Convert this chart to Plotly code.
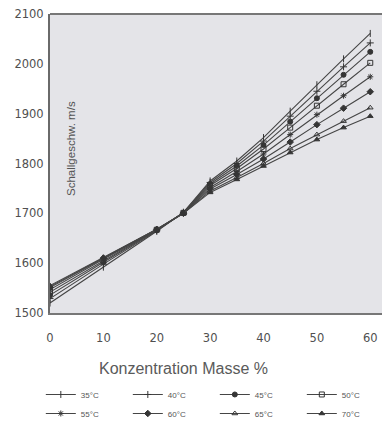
import plotly.graph_objects as go

konz = [0, 10, 20, 25, 30, 35, 40, 45, 50, 55, 60]
labels = ["35°C", "40°C", "45°C", "50°C", "55°C", "60°C", "65°C", "70°C"]
t35 = [1520, 1592, 1664, 1702, 1765, 1805, 1852, 1905, 1958, 2010, 2061]
t40 = [1529, 1598, 1665, 1702, 1762, 1800, 1845, 1895, 1945, 1994, 2042]
t45 = [1536, 1602, 1666, 1701, 1759, 1795, 1837, 1884, 1931, 1978, 2024]
t50 = [1542, 1605, 1667, 1701, 1756, 1790, 1829, 1872, 1916, 1959, 2002]
t55 = [1547, 1608, 1667, 1700, 1752, 1784, 1819, 1858, 1898, 1936, 1974]
t60 = [1551, 1610, 1668, 1700, 1749, 1778, 1809, 1843, 1878, 1911, 1944]
t65 = [1553, 1611, 1668, 1700, 1745, 1772, 1800, 1830, 1858, 1885, 1912]
t70 = [1555, 1612, 1668, 1700, 1742, 1768, 1795, 1822, 1848, 1872, 1895]
series = [t35, t40, t45, t50, t55, t60, t65, t70]
x_ticks = [0, 10, 20, 30, 40, 50, 60]
y_ticks = [1500, 1600, 1700, 1800, 1900, 2000, 2100]

symbols = ["line-ns-open", "cross-thin-open", "circle", "square-open",
           "asterisk-open", "diamond", "triangle-up-open", "triangle-up"]

fig = go.Figure()
for lab, vals, sym in zip(labels, series, symbols):
    fig.add_trace(go.Scatter(
        x=konz, y=vals, name=lab, mode="lines+markers",
        line=dict(color="#454545", width=1.1),
        marker=dict(symbol=sym, size=5, color="#353535",
                    line=dict(color="#353535", width=1)),
    ))

tick_font = dict(family="DejaVu Sans, sans-serif", size=11.5, color="#505050")

# page body has an 8px margin, so the figure is 8px smaller than the window
fig.update_layout(
    width=382, height=420,
    margin=dict(l=42, r=0, t=6, b=115, autoexpand=False),
    paper_bgcolor="white", plot_bgcolor="#e4e4e8",
    font=dict(family="Liberation Sans, Arial, sans-serif", color="#555555", size=10),
    showlegend=True,
    legend=dict(orientation="h", x=-0.027, xanchor="left", y=-0.224, yanchor="top",
                entrywidth=42, entrywidthmode="pixels", itemwidth=30,
                font=dict(size=8, color="#555555"), tracegroupgap=0,
                bgcolor="rgba(0,0,0,0)"),
    annotations=[
        dict(text="Schallgeschw. m/s", x=0.06, xref="paper", xanchor="center",
             y=1830, yref="y", yanchor="middle",
             textangle=-90, showarrow=False, font=dict(size=11.5, color="#555555")),
        dict(text="Konzentration Masse %", x=0.393, xref="paper", xanchor="center",
             y=-0.184, yref="paper", yanchor="middle",
             showarrow=False, font=dict(size=16, color="#5a5a5a")),
    ],
)
fig.update_xaxes(range=[0, 63.7], tickvals=x_ticks, showgrid=False, zeroline=False,
                 showline=True, linecolor="#777777", linewidth=2,
                 ticks="outside", ticklen=13, tickcolor="rgba(0,0,0,0)", automargin=False,
                 ticklabeloverflow="allow", tickfont=tick_font)
fig.update_yaxes(range=[1500, 2100], tickvals=y_ticks, showgrid=False, zeroline=False,
                 showline=True, linecolor="#6a6a6a", linewidth=2,
                 ticks="outside", ticklen=2, tickcolor="rgba(0,0,0,0)", automargin=False,
                 ticklabeloverflow="allow", tickfont=tick_font)
fig.add_shape(type="line", xref="paper", yref="paper", x0=0, x1=1, y0=1, y1=1,
              line=dict(color="#777777", width=2))

fig.write_html("out.html")
